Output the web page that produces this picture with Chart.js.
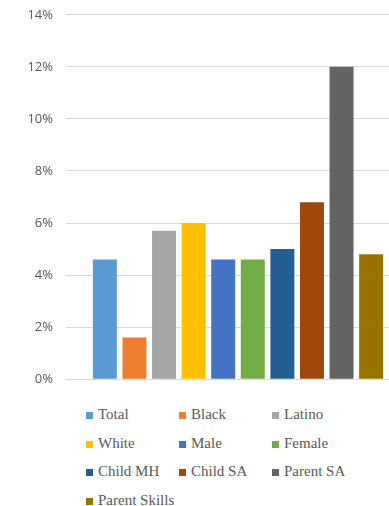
<!DOCTYPE html>
<html>
<head>
<meta charset="utf-8">
<script src="https://cdn.jsdelivr.net/npm/chart.js@4.4.1/dist/chart.umd.min.js"></script>
<style>
  html, body { margin: 0; padding: 0; background: #fff; overflow: hidden; width: 389px; height: 506px; }
  #wrap { position: absolute; left: 0; top: -6px; width: 420px; height: 406px; }
  #legend {
    position: absolute; left: 86px; top: 400px;
    display: grid; grid-template-columns: 93px 93px 110px; grid-auto-rows: 28.7px;
    font-family: "Liberation Serif", "DejaVu Serif", serif; font-size: 15px; color: #595959;
  }
  #legend div { white-space: nowrap; line-height: 28.7px; }
  #legend span.box { display: inline-block; width: 7px; height: 7px; margin-right: 5px; vertical-align: 0; }
</style>
</head>
<body>
<div id="wrap"><canvas id="riskChart" width="420" height="406"></canvas></div>
<div id="legend"></div>
<script>
// groups shown in the legend, one bar each
var groups = ['Total', 'Black', 'Latino', 'White', 'Male', 'Female', 'Child MH', 'Child SA', 'Parent SA', 'Parent Skills'];
var rates = [4.6, 1.6, 5.7, 6.0, 4.6, 4.6, 5.0, 6.8, 12.0, 4.8];
var colors = ['#5B9BD5', '#ED7D31', '#A5A5A5', '#FFC000', '#4472C4', '#70AD47', '#255E91', '#9E480E', '#636363', '#997300'];
var yTicks = [0, 2, 4, 6, 8, 10, 12, 14];

var datasets = groups.map(function (g, i) {
  return {
    label: g,
    data: [rates[i]],
    backgroundColor: colors[i],
    categoryPercentage: 0.86,
    barPercentage: 0.81
  };
});

var riskChart = new Chart(document.getElementById('riskChart'), {
  type: 'bar',
  data: { labels: [''], datasets: datasets },
  options: {
    responsive: false,
    animation: false,
    devicePixelRatio: 1,
    layout: { padding: { top: 8, right: 10, bottom: 1, left: 0 } },
    scales: {
      x: { display: false, offset: true },
      y: {
        min: 0,
        max: 14,
        afterFit: function (scale) { scale.width = 66; },
        afterBuildTicks: function (scale) {
          scale.ticks = yTicks.map(function (v) { return { value: v }; });
        },
        border: { display: false },
        grid: { color: '#D9D9D9', lineWidth: 1, drawTicks: false },
        ticks: {
          padding: 13,
          color: '#595959',
          font: { family: 'Open Sans', size: 13 },
          callback: function (v) { return v + '%'; }
        }
      }
    },
    plugins: {
      legend: { display: false },
      tooltip: { enabled: false }
    }
  }
});

// html legend, 3 columns like the original
var legendBox = document.getElementById('legend');
groups.forEach(function (g, i) {
  var item = document.createElement('div');
  item.innerHTML = '<span class="box" style="background:' + colors[i] + '"></span>' + g;
  legendBox.appendChild(item);
});
</script>
</body>
</html>
